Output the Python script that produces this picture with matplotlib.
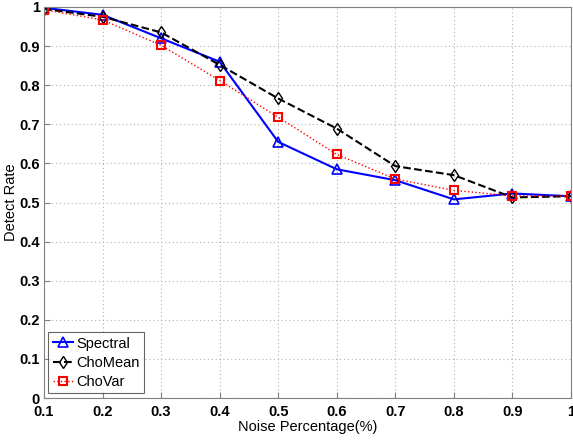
import matplotlib
matplotlib.use("Agg")
import matplotlib.pyplot as plt

plt.rcParams['font.family'] = ['Liberation Sans', 'DejaVu Sans']

noise = [0.1, 0.2, 0.3, 0.4, 0.5, 0.6, 0.7, 0.8, 0.9, 1.0]
spectral = [0.998, 0.980, 0.920, 0.860, 0.655, 0.585, 0.557, 0.508, 0.523, 0.516]
chomean = [0.995, 0.975, 0.935, 0.852, 0.766, 0.689, 0.593, 0.570, 0.513, 0.516]
chovar = [0.993, 0.967, 0.902, 0.812, 0.718, 0.623, 0.560, 0.531, 0.517, 0.516]
xticks = [0.1, 0.2, 0.3, 0.4, 0.5, 0.6, 0.7, 0.8, 0.9, 1.0]
xticklabels = ['0.1', '0.2', '0.3', '0.4', '0.5', '0.6', '0.7', '0.8', '0.9', '1']
yticks = [0, 0.1, 0.2, 0.3, 0.4, 0.5, 0.6, 0.7, 0.8, 0.9, 1.0]
yticklabels = ['0', '0.1', '0.2', '0.3', '0.4', '0.5', '0.6', '0.7', '0.8', '0.9', '1']

fig = plt.figure(figsize=(5.73, 4.41), dpi=100)
ax = fig.add_axes([44/573, 43/441, 527/573, 391/441])

ax.plot(noise, spectral, '-', color='#0000ff', lw=1.5, marker='^', mfc='none', mec='#0000ff', ms=7, mew=1.2, label='Spectral')
ax.plot(noise, chomean, '--', color='black', lw=1.5, marker='d', mfc='none', mec='black', ms=6, mew=1.0, label='ChoMean')
ax.plot(noise, chovar, ':', color='#ff0000', lw=1.0, marker='s', mfc='none', mec='#ff0000', ms=6, mew=1.5, label='ChoVar')

ax.set_xlim(0.1, 1.0)
ax.set_ylim(0, 1)
ax.set_xticks(xticks)
ax.set_xticklabels(xticklabels)
ax.set_yticks(yticks)
ax.set_yticklabels(yticklabels)
ax.grid(True, linestyle=(0, (1, 2.5)), color='#b0b0b0', lw=0.8)
for s in ax.spines.values():
    s.set_color('#808080')
ax.tick_params(direction='in', length=4, color='#808080', labelsize=10.5)
ax.tick_params(axis='y', pad=3)
ax.tick_params(axis='x', pad=5)
for lab in ax.get_xticklabels() + ax.get_yticklabels():
    lab.set_fontweight('bold')
ax.set_xlabel('Noise Percentage(%)', fontsize=10.5, labelpad=1)
ax.set_ylabel('Detect Rate', fontsize=10.5, labelpad=1)

leg = ax.legend(loc='lower left', bbox_to_anchor=(0.003, 0.005), fontsize=10.5, frameon=True,
                fancybox=False, edgecolor='#404040', handlelength=1.4, handletextpad=0.2,
                borderpad=0.3, labelspacing=0.35, borderaxespad=0.2)
leg.get_frame().set_linewidth(0.8)

fig.savefig('out.png', dpi=100)
